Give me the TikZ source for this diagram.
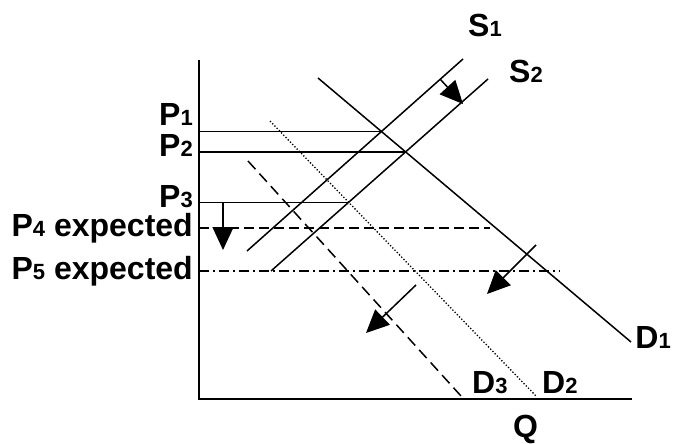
\documentclass[tikz,border=0pt]{standalone}
\usepackage{fontspec}
\setmainfont{Liberation Sans}
\usetikzlibrary{arrows.meta,intersections}
\newcommand\dg[1]{{\fontsize{22}{22}\selectfont #1}}
\tikzset{
  lbl/.style={inner sep=0pt, font=\bfseries\fontsize{32}{33}\selectfont},
  curve/.style={line width=1.5pt},
  axis/.style={line width=2pt},
  shiftarrow/.style={line width=1.5pt,-{Triangle[length=23pt,width=21pt]}},
}
\begin{document}
\begin{tikzpicture}[x=1pt,y=-1pt]
\useasboundingbox (0,0) rectangle (673,444);
% axes
\coordinate (ytop) at (199,60);
\coordinate (orig) at (199,399);
\coordinate (xend) at (632,399);
\draw[axis] (ytop) -- (orig) -- (xend);
% curves
\coordinate (s1a) at (463,59); \coordinate (s1b) at (247,251);
\coordinate (s2a) at (488,79); \coordinate (s2b) at (271,271);
\coordinate (d1a) at (318,78); \coordinate (d1b) at (631,342);
\coordinate (d2a) at (270,121); \coordinate (d2b) at (536,396);
\coordinate (d3a) at (248,161); \coordinate (d3b) at (461,396);
\draw[curve,name path=S1] (s1a) -- (s1b);
\draw[curve,name path=S2] (s2a) -- (s2b);
\draw[curve,name path=D1] (d1a) -- (d1b);
\draw[line width=1.3pt,dash pattern=on 1.3pt off 1.9pt,name path=D2] (d2a) -- (d2b);
\draw[curve,dash pattern=on 11pt off 6pt] (d3a) -- (d3b);
\path[name intersections={of=S1 and D1,by=e1}];
\path[name intersections={of=S2 and D1,by=e2}];
\path[name intersections={of=S2 and D2,by=e3}];
% price lines
\draw[curve] (orig |- e1) -- (e1);
\draw[curve] (orig |- e2) -- (e2);
\draw[curve] (orig |- e3) -- (e3);
\coordinate (p4l) at (199,228); \coordinate (p4r) at (490,228);
\coordinate (p5l) at (199,271); \coordinate (p5r) at (560,271);
\draw[curve,dash pattern=on 10pt off 5pt] (p4l) -- (p4r);
\draw[curve,dash pattern=on 10pt off 4pt on 2pt off 4pt] (p5l) -- (p5r);
% arrows
\coordinate (a1s) at (223,202); \coordinate (a1e) at (223,250);
\draw[shiftarrow] (a1s) -- (a1e);
\coordinate (a2s) at (440,79); \coordinate (a2e) at (463,104);
\draw[shiftarrow] (a2s) -- (a2e);
\coordinate (a3s) at (536,245); \coordinate (a3e) at (487,294);
\draw[shiftarrow] (a3s) -- (a3e);
\coordinate (a4s) at (416,285); \coordinate (a4e) at (366,333);
\draw[shiftarrow] (a4s) -- (a4e);
% labels
\node[lbl,anchor=base east] (P1) at (193,126) {P\dg{1}};
\node[lbl,anchor=base east] (P2) at (193,157) {P\dg{2}};
\node[lbl,anchor=base east] (P3) at (193,207) {P\dg{3}};
\node[lbl,anchor=base east] (P4) at (193,236) {P\dg{4} expected};
\node[lbl,anchor=base east] (P5) at (193,279) {P\dg{5} expected};
\node[lbl,anchor=base west] (S1) at (468,37) {S\dg{1}};
\node[lbl,anchor=base west] (S2) at (509,83) {S\dg{2}};
\node[lbl,anchor=base east] (D1) at (671,348) {D\dg{1}};
\node[lbl,anchor=base west] (D3) at (472,393) {D\dg{3}};
\node[lbl,anchor=base west] (D2) at (542,393) {D\dg{2}};
\node[lbl,anchor=base west] (Q) at (513,437) {Q};
\end{tikzpicture}
\end{document}
